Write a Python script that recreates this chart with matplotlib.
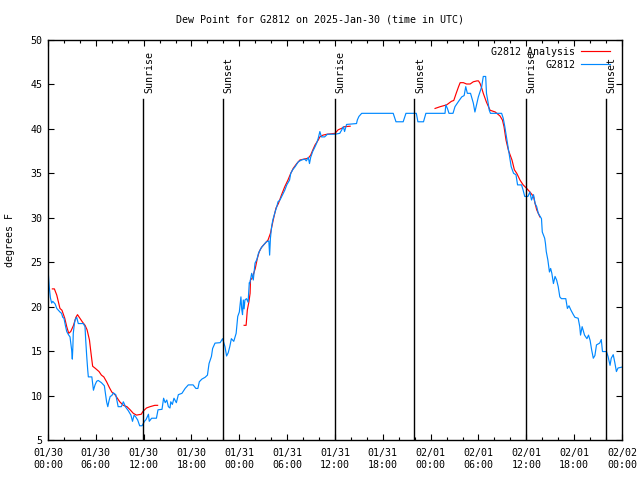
import numpy as np
import pandas as pd
import matplotlib
matplotlib.use("Agg")
import matplotlib.pyplot as plt
import matplotlib.dates as mdates
import matplotlib.transforms as mtransforms

plt.rcParams['font.family'] = ['DejaVu Sans Mono']

title = "Dew Point for G2812 on 2025-Jan-30 (time in UTC)"
ylabel = "degrees F"
start = pd.Timestamp("2025-01-30 00:00")

# Observations (hours since start, degrees F)
obs_hours = [0.0, 0.1, 0.17, 0.3, 0.46, 0.6, 0.9, 1.1, 1.3, 1.5, 1.7, 1.85, 2.0, 2.2, 2.35, 2.6, 2.76, 2.9,
             2.97, 3.05, 3.12, 3.17, 3.3, 3.39, 3.6, 3.8, 4.1, 4.43, 4.64, 4.73, 4.85, 4.98, 5.06, 5.5, 5.6,
             5.7, 5.9, 6.1, 6.3, 6.7, 7.07, 7.2, 7.35, 7.5, 7.65, 7.8, 8.0, 8.2, 8.5, 8.65, 8.8, 9.2, 9.45,
             9.6, 9.7, 10.07, 10.4, 10.6, 10.8, 11.0, 11.25, 11.5, 11.8, 12.1, 12.3, 12.6, 12.7, 13.0, 13.6,
             13.8, 14.3, 14.5, 14.7, 14.9, 15.1, 15.3, 15.4, 15.6, 15.8, 16.1, 16.35, 16.8, 17.2, 17.6, 18.2,
             18.55, 18.8, 18.98, 19.3, 19.7, 20.0, 20.2, 20.5, 20.65, 20.95, 21.6, 21.9, 22.2, 22.4, 22.6,
             22.8, 23.0, 23.3, 23.6, 23.8, 24.0, 24.2, 24.3, 24.4, 24.5, 24.6, 24.7, 24.9, 25.1, 25.25, 25.3,
             25.55, 25.75, 25.97, 26.2, 26.4, 26.7, 27.0, 27.4, 27.7, 27.8, 27.9, 28.05, 28.2, 28.5, 28.7,
             28.85, 29.1, 29.5, 29.7, 29.95, 30.3, 30.45, 30.7, 31.0, 31.4, 31.8, 32.2, 32.4, 32.65, 32.8,
             32.95, 33.2, 33.5, 33.7, 33.9, 34.1, 34.3, 34.7, 35.05, 36.0, 36.6, 36.85, 37.05, 37.2, 37.45,
             38.7, 38.8, 39.0, 39.35, 43.3, 43.65, 44.55, 44.9, 46.2, 46.4, 47.1, 47.4, 49.8, 49.9, 50.1,
             50.3, 50.8, 51.05, 51.5, 51.9, 52.2, 52.4, 52.6, 53.0, 53.35, 53.55, 53.8, 53.98, 54.2, 54.4,
             54.6, 54.9, 55.0, 55.15, 55.35, 55.5, 56.9, 57.1, 57.3, 57.5, 57.7, 57.9, 58.1, 58.4, 58.7,
             58.9, 59.4, 59.6, 59.8, 60.2, 60.45, 60.65, 60.9, 61.1, 61.3, 61.5, 61.7, 61.9, 62.0, 62.3,
             62.4, 62.5, 62.7, 62.9, 63.05, 63.2, 63.4, 63.6, 63.8, 64.0, 64.2, 64.4, 64.95, 65.15, 65.35,
             65.6, 65.9, 66.1, 66.5, 66.7, 66.8, 67.0, 67.3, 67.6, 67.8, 68.0, 68.2, 68.4, 68.6, 68.8, 69.2,
             69.4, 69.55, 70.05, 70.25, 70.5, 70.65, 70.9, 71.1, 71.3, 71.5, 72.0]
obs_values = [24.2, 23.0, 22.1, 21.0, 20.4, 20.6, 20.3, 19.8, 19.6, 19.4, 19.25, 18.8, 18.7, 17.8, 17.2, 16.8,
              16.6, 15.6, 15.1, 14.1, 15.5, 17.0, 18.0, 18.5, 18.8, 18.1, 18.1, 18.1, 17.75, 16.25, 14.5,
              12.9, 12.1, 12.1, 11.3, 10.6, 11.2, 11.6, 11.7, 11.45, 11.1, 10.25, 9.3, 8.75, 9.4, 9.9, 10.0,
              10.3, 10.1, 9.4, 8.75, 8.75, 9.3, 9.0, 8.75, 8.3, 7.8, 7.1, 7.8, 7.6, 7.25, 6.6, 6.6, 7.1, 7.3,
              7.9, 7.1, 7.45, 7.45, 8.4, 8.45, 9.7, 9.2, 9.5, 8.75, 8.6, 9.3, 9.0, 9.7, 9.2, 10.1, 10.25,
              10.8, 11.2, 11.2, 10.8, 10.8, 11.55, 11.85, 12.05, 12.3, 13.6, 14.4, 15.3, 15.9, 15.95, 16.4,
              15.5, 14.45, 14.8, 15.5, 16.4, 16.1, 17.0, 18.9, 19.4, 21.1, 19.7, 19.1, 20.75, 19.75, 20.75,
              20.9, 20.5, 22.7, 22.6, 23.75, 23.0, 24.9, 25.3, 26.0, 26.55, 26.9, 27.3, 27.4, 25.8, 27.7,
              29.0, 29.75, 30.7, 31.25, 31.8, 32.0, 32.75, 33.1, 33.7, 34.25, 35.0, 35.4, 35.75, 36.3, 36.5,
              36.6, 36.4, 36.8, 36.1, 36.8, 37.45, 38.0, 38.4, 38.95, 39.7, 39.1, 39.1, 39.4, 39.4, 39.5,
              39.9, 40.25, 39.7, 40.5, 40.6, 41.0, 41.4, 41.75, 41.75, 40.8, 40.8, 41.75, 41.75, 40.8, 40.8,
              41.75, 41.75, 42.7, 42.3, 41.75, 41.75, 42.5, 43.1, 43.6, 43.75, 44.75, 44.0, 44.0, 42.9, 41.9,
              42.9, 43.6, 44.2, 44.75, 45.9, 45.9, 44.0, 43.25, 42.1, 41.75, 41.75, 41.2, 40.25, 39.1, 38.0,
              36.9, 35.75, 35.0, 34.85, 33.7, 33.7, 33.1, 32.4, 32.4, 32.9, 32.0, 32.6, 31.6, 31.25, 30.5,
              30.2, 29.9, 28.4, 27.7, 27.1, 26.2, 25.25, 23.9, 24.3, 23.75, 22.6, 23.4, 23.0, 22.25, 21.1,
              20.9, 20.9, 19.8, 20.1, 19.6, 19.1, 18.8, 18.7, 17.75, 16.8, 17.75, 16.8, 16.4, 16.8, 16.2,
              15.1, 14.2, 14.5, 15.7, 15.9, 16.3, 14.95, 14.95, 14.4, 13.4, 14.2, 14.6, 13.7, 12.7, 13.1,
              13.2]

# Analysis (NaN = gap)
ana_hours = [0.55, 0.8, 1.1, 1.3, 1.5, 1.75, 2.1, 2.35, 2.6, 2.85, 3.2, 3.5, 3.7, 4.0, 4.3, 4.65, 4.9, 5.2,
             5.35, 5.5, 5.6, 5.95, 6.4, 6.7, 7.0, 7.35, 7.7, 8.0, 8.4, 8.7, 9.0, 9.45, 9.9, 10.3, 10.7, 11.1,
             11.7, 11.9, 12.35, 12.8, 13.4, 13.75, 19.0,
             24.6, 24.85, 25.0, 25.2, 25.35, 25.4, 25.6, 26.0, 26.25, 26.5, 26.8, 27.2, 27.6, 27.9, 28.25,
             28.6, 28.9, 29.3, 29.7, 30.1, 30.45, 30.75, 31.2, 31.6, 32.1, 32.65, 32.95, 33.2, 33.5, 33.9,
             34.1, 34.5, 35.0, 36.0, 36.4, 36.8, 37.2, 37.9, 43.0,
             48.55, 49.2, 50.0, 50.6, 50.9, 51.2, 51.5, 51.7, 52.1, 52.5, 52.95, 53.35, 53.8, 54.0, 54.2,
             54.4, 54.6, 55.0, 55.45, 56.1, 56.7, 57.0, 57.2, 57.45, 57.75, 58.2, 58.5, 58.8, 59.2, 59.6,
             60.05, 60.45, 60.9, 61.1, 61.3, 61.7]
ana_values = [22.0, 22.0, 21.3, 20.55, 19.8, 19.6, 18.7, 17.75, 17.0, 17.2, 17.9, 18.8, 19.1, 18.7, 18.3,
              17.9, 17.4, 16.25, 15.1, 14.0, 13.3, 13.05, 12.7, 12.3, 12.1, 11.55, 10.9, 10.4, 10.1, 9.7,
              9.3, 8.9, 8.75, 8.4, 8.0, 7.8, 7.9, 8.2, 8.6, 8.75, 8.9, 8.9, np.nan,
              17.9, 17.9, 19.6, 20.55, 21.5, 23.0, 23.2, 24.3, 25.4, 26.2, 26.7, 27.1, 27.5, 28.25, 29.75,
              31.1, 31.6, 32.6, 33.5, 34.25, 35.0, 35.55, 36.1, 36.5, 36.6, 36.7, 37.05, 37.6, 38.2, 38.75,
              39.1, 39.3, 39.4, 39.5, 39.9, 40.05, 40.25, 40.3, np.nan,
              42.3, 42.5, 42.7, 43.1, 43.2, 44.0, 44.75, 45.2, 45.2, 45.05, 45.05, 45.3, 45.4, 45.4, 45.1,
              44.6, 44.0, 43.0, 42.1, 41.9, 41.45, 41.0, 40.25, 38.75, 37.6, 36.5, 35.4, 35.0, 34.25, 33.7,
              33.3, 32.9, 32.4, 31.6, 30.9, 30.1]

sun_labels = ["Sunrise", "Sunset", "Sunrise", "Sunset", "Sunrise", "Sunset"]
sun_hours = [11.95, 21.9, 35.97, 45.93, 59.97, 70.0]

obs_t = start + pd.to_timedelta(obs_hours, unit="h")
ana_t = start + pd.to_timedelta(ana_hours, unit="h")
sun_t = start + pd.to_timedelta(sun_hours, unit="h")

FS = 7.2

fig = plt.figure(figsize=(6.4, 4.8), dpi=100)
ax = fig.add_axes([48/640, 40/480, 574/640, 400/480])

ax.plot(ana_t, ana_values, color="#ff0000", lw=0.85, label="G2812 Analysis")
ax.plot(obs_t, obs_values, color="#0088ff", lw=0.85, label="G2812")

trans = mtransforms.blended_transform_factory(ax.transData, ax.transAxes)
for t, lab in zip(sun_t, sun_labels):
    ax.plot([t, t], [0, 0.852], color="black", lw=1.0, transform=trans)
    ax.text(mdates.date2num(t) + 0.03, 0.868, lab, rotation=90, ha="center", va="bottom",
            fontsize=FS, transform=trans)

ax.set_xlim(start, start + pd.Timedelta(hours=72))
ax.set_ylim(5, 50)
ax.set_yticks(np.arange(5, 51, 5))
ax.xaxis.set_major_locator(mdates.HourLocator(byhour=[0, 6, 12, 18]))
ax.xaxis.set_minor_locator(mdates.HourLocator(interval=2))
ax.xaxis.set_major_formatter(mdates.DateFormatter("%m/%d\n%H:%M"))

ax.tick_params(which="both", direction="in", top=True, right=True, labelsize=FS, color="black")
ax.tick_params(which="major", length=4.5, width=0.8, pad=4)
ax.tick_params(which="minor", length=2.5, width=0.8)
ax.tick_params(axis="x", which="major", pad=6)
for s in ax.spines.values():
    s.set_linewidth(1.0)

ax.set_ylabel(ylabel, fontsize=FS, labelpad=11)
fig.text(0.5, 1 - 19/480, title, ha="center", va="center", fontsize=FS)

leg = ax.legend(loc="upper right", markerfirst=False, frameon=False, fontsize=FS,
                handlelength=2.9, handletextpad=0.6, labelspacing=0.3,
                borderaxespad=0.3, bbox_to_anchor=(0.992, 1.0))

fig.savefig("out.png", dpi=100)
